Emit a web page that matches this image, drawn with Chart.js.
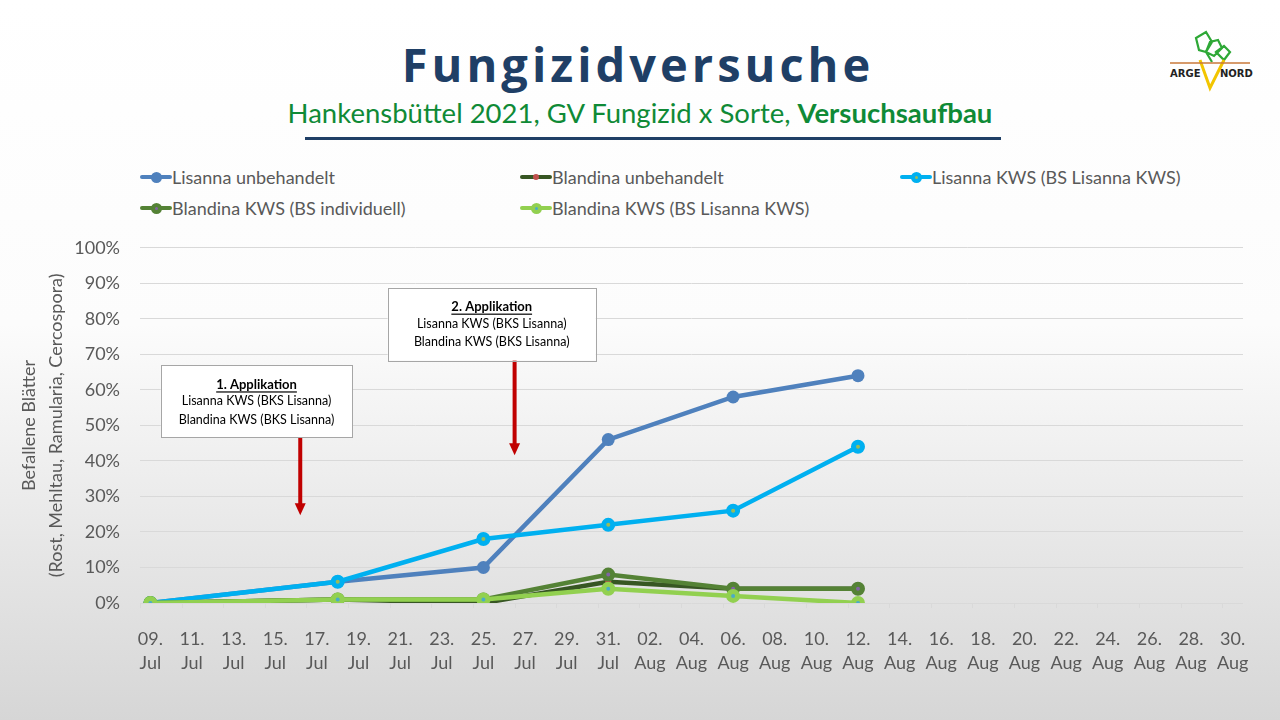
<!DOCTYPE html>
<html>
<head>
<meta charset="utf-8">
<script src="https://cdn.jsdelivr.net/npm/chart.js@4.4.1/dist/chart.umd.min.js"></script>
<style>
  body {
    margin: 0;
    width: 1280px;
    height: 720px;
    overflow: hidden;
    position: relative;
    background: linear-gradient(to bottom, #ffffff 0%, #fcfcfc 45%, #d6d6d6 100%);
    font-family: Lato, "Noto Sans", sans-serif;
  }
  #title {
    position: absolute; left: 0; width: 1276px; top: 32px;
    text-align: center; font-family: "Open Sans", sans-serif; font-weight: 700;
    font-size: 47px; letter-spacing: 4px; color: #1f3f66; line-height: 64px;
  }
  #subtitle {
    position: absolute; left: 0; width: 1280px; top: 95px;
    text-align: center; font-size: 27.5px; color: #0f8a36; line-height: 36px;
  }
  #subtitle b { font-weight: 700; }
  #rule {
    position: absolute; left: 305px; top: 137px; width: 696px; height: 3px; background: #1f3f66;
  }
  #logo { position: absolute; left: 1166px; top: 30px; }
  #legend {
    position: absolute; left: 140px; top: 163px;
    display: grid; grid-template-columns: 380px 380px 380px; row-gap: 3px;
    font-size: 18px; color: #595959;
  }
  .item { display: flex; align-items: center; height: 28px; white-space: nowrap; }
  .sw { position: relative; width: 32px; height: 28px; margin-right: 0px; }
  .sw .ln { position: absolute; left: 0; width: 32px; top: 12px; height: 4px; border-radius: 2px; }
  .sw .mk { position: absolute; border-radius: 50%; }
  #wrap { position: absolute; left: 0; top: 217px; width: 1280px; height: 503px; }
</style>
</head>
<body>
<div id="title">Fungizidversuche</div>
<div id="subtitle">Hankensbüttel 2021, GV Fungizid x Sorte, <b>Versuchsaufbau</b></div>
<div id="rule"></div>
<svg id="logo" width="88" height="62" viewBox="0 0 88 62">
  <path d="M30 8 L40 2 L46 12 L40 22 L33 20 Z M40 22 L44 12 L52 10 L56 18 L48 26 Z M50 22 L58 16 L64 22 L58 30 Z M40 22 L46 32" fill="none" stroke="#2ea836" stroke-width="2.2"/>
  <path d="M34 30 L44 58 L58 30" fill="none" stroke="#f2c500" stroke-width="3"/>
  <line x1="4" y1="33" x2="84" y2="33" stroke="#c8793a" stroke-width="1.5"/>
  <text x="4" y="47" font-family="DejaVu Sans" font-weight="bold" font-size="10" fill="#222">ARGE</text>
  <text x="54" y="47" font-family="DejaVu Sans" font-weight="bold" font-size="10" fill="#222">NORD</text>
</svg>
<div id="legend"></div>
<div id="wrap"><canvas id="chart"></canvas></div>

<script>
// Data (% befallene Blätter)
const sampleDates = ["2021-07-09", "2021-07-18", "2021-07-25", "2021-07-31", "2021-08-06", "2021-08-12"];
const lisannaUnbehandelt = [0, 6, 10, 46, 58, 64];
const blandinaUnbehandelt = [0, 1, 0, 6, 4, 4];
const lisannaKws = [0, 6, 18, 22, 26, 44];
const blandinaKwsIndividuell = [0, 1, 1, 8, 4, 4];
const blandinaKwsLisanna = [0, 1, 1, 4, 2, 0];
const seriesNames = [
  "Lisanna unbehandelt",
  "Blandina unbehandelt",
  "Lisanna KWS (BS Lisanna KWS)",
  "Blandina KWS (BS individuell)",
  "Blandina KWS (BS Lisanna KWS)",
];
const axisStart = "2021-07-09";
const axisEnd = "2021-08-30";
const monthNames = ["Jan", "Feb", "Mär", "Apr", "Mai", "Jun", "Jul", "Aug", "Sep", "Okt", "Nov", "Dez"];
const yTicks = [0, 10, 20, 30, 40, 50, 60, 70, 80, 90, 100];

// Annotation boxes (applications)
const applications = [
  { title: "1. Applikation", lines: ["Lisanna KWS (BKS Lisanna)", "Blandina KWS (BKS Lisanna)"],
    box: [0.5, 9.7, 66.9, 46.6], arrow: [7.2, 46.6, 24.7] },
  { title: "2. Applikation", lines: ["Lisanna KWS (BKS Lisanna)", "Blandina KWS (BKS Lisanna)"],
    box: [11.4, 21.4, 88.8, 68.3], arrow: [17.5, 68.3, 41.6] },
];

const DAY = 86400000;
const t0 = Date.parse(axisStart);
const dayOf = (d) => Math.round((Date.parse(d) - t0) / DAY);
const lastDay = dayOf(axisEnd);

const styles = [
  { line: "#4f81bd", fill: "#4f81bd", border: "#4f81bd", r: 6.5, bw: 0 },
  { line: "#375623", fill: "#c0504d", border: "#c0504d", r: 3, bw: 0 },
  { line: "#00b0f0", fill: "#9bbb59", border: "#00b0f0", r: 4.5, bw: 5 },
  { line: "#548235", fill: "#8064a2", border: "#548235", r: 4.5, bw: 5 },
  { line: "#92d050", fill: "#4bacc6", border: "#92d050", r: 4.5, bw: 5 },
];
const seriesValues = [lisannaUnbehandelt, blandinaUnbehandelt, lisannaKws, blandinaKwsIndividuell, blandinaKwsLisanna];

const datasets = seriesValues.map((vals, i) => ({
  label: seriesNames[i],
  data: vals.map((v, j) => ({ x: dayOf(sampleDates[j]), y: v })),
  borderColor: styles[i].line,
  backgroundColor: styles[i].fill,
  borderWidth: 4.5,
  pointRadius: styles[i].r,
  pointBorderWidth: styles[i].bw,
  pointBorderColor: styles[i].border,
  pointBackgroundColor: styles[i].fill,
  tension: 0,
  order: seriesValues.length - i,
}));

// HTML legend in three columns
const legendEl = document.getElementById("legend");
seriesNames.forEach((name, i) => {
  const s = styles[i];
  const size = i === 1 ? 6 : 11;
  const item = document.createElement("div");
  item.className = "item";
  item.innerHTML =
    '<div class="sw"><div class="ln" style="background:' + s.line + '"></div>' +
    '<div class="mk" style="left:' + (16 - size / 2) + 'px;top:' + (14 - size / 2) + 'px;width:' + size + 'px;height:' + size + 'px;background:' +
    (i <= 1 ? s.fill : s.border) + '"></div>' +
    (i >= 2 ? '<div class="mk" style="left:14.5px;top:12.5px;width:3px;height:3px;background:' + s.fill + '"></div>' : "") +
    "</div><span>" + name + "</span>";
  legendEl.appendChild(item);
});

// draws the small x tick marks and the application callouts
const extrasPlugin = {
  id: "extras",
  afterDraw(chart) {
    const { ctx, scales: { x, y } } = chart;
    ctx.save();
    ctx.strokeStyle = "#d9d9d9";
    ctx.lineWidth = 1;
    for (let d = -0.5; d <= lastDay + 0.5; d += 2) {
      const px = Math.round(x.getPixelForValue(d)) + 0.5;
      ctx.beginPath();
      ctx.moveTo(px, y.bottom);
      ctx.lineTo(px, y.bottom + 5);
      ctx.stroke();
    }
    applications.forEach((a) => {
      const [x1, x2, y1, y2] = a.box;
      const l = x.getPixelForValue(x1), r = x.getPixelForValue(x2);
      const t = y.getPixelForValue(y1), b = y.getPixelForValue(y2);
      // arrow
      const ax = x.getPixelForValue(a.arrow[0]);
      const ay1 = y.getPixelForValue(a.arrow[1]), ay2 = y.getPixelForValue(a.arrow[2]);
      ctx.strokeStyle = "#c00000";
      ctx.fillStyle = "#c00000";
      ctx.lineWidth = 4;
      ctx.beginPath();
      ctx.moveTo(ax, ay1);
      ctx.lineTo(ax, ay2 - 10);
      ctx.stroke();
      ctx.beginPath();
      ctx.moveTo(ax - 5.5, ay2 - 12);
      ctx.lineTo(ax + 5.5, ay2 - 12);
      ctx.lineTo(ax, ay2);
      ctx.closePath();
      ctx.fill();
      // box
      ctx.fillStyle = "#ffffff";
      ctx.fillRect(l, t, r - l, b - t);
      ctx.strokeStyle = "#a6a6a6";
      ctx.lineWidth = 1;
      ctx.strokeRect(Math.round(l) + 0.5, Math.round(t) + 0.5, Math.round(r - l), Math.round(b - t));
      const cx = (l + r) / 2;
      ctx.fillStyle = "#000000";
      ctx.textAlign = "center";
      ctx.textBaseline = "middle";
      ctx.font = "bold 13px Lato, sans-serif";
      ctx.fillText(a.title, cx, t + 19);
      const tw = ctx.measureText(a.title).width;
      ctx.fillRect(cx - tw / 2, t + 26, tw, 1.2);
      ctx.font = "12.5px Lato, sans-serif";
      a.lines.forEach((ln, k) => ctx.fillText(ln, cx, t + 36 + k * 18.5));
    });
    ctx.restore();
  },
};

new Chart(document.getElementById("chart"), {
  type: "line",
  data: { datasets },
  plugins: [extrasPlugin],
  options: {
    responsive: true,
    maintainAspectRatio: false,
    animation: false,
    layout: { padding: { top: 0, right: 37, left: 0, bottom: 0 } },
    plugins: { legend: { display: false }, tooltip: { enabled: false } },
    scales: {
      x: {
        type: "linear",
        min: -0.5,
        max: lastDay + 0.5,
        afterBuildTicks: (scale) => {
          const ticks = [];
          for (let d = 0; d <= lastDay; d += 2) ticks.push({ value: d });
          scale.ticks = ticks;
        },
        afterFit: (scale) => { scale.height = 117; },
        grid: { display: false },
        border: { display: false },
        ticks: {
          autoSkip: false,
          maxRotation: 0,
          padding: 16,
          color: "#595959",
          font: { family: "Lato", size: 18, lineHeight: 1.33 },
          callback: (v) => {
            const d = new Date(t0 + v * DAY);
            return [String(d.getUTCDate()).padStart(2, "0") + ".", monthNames[d.getUTCMonth()]];
          },
        },
      },
      y: {
        min: 0,
        max: 100,
        afterBuildTicks: (scale) => { scale.ticks = yTicks.map((v) => ({ value: v })); },
        afterFit: (scale) => { scale.width = 140; },
        grid: { color: "#d9d9d9", lineWidth: 1, drawTicks: false },
        border: { display: false },
        ticks: {
          padding: 20,
          color: "#595959",
          font: { family: "Lato", size: 18 },
          callback: (v) => v + "%",
        },
        title: {
          display: true,
          text: ["Befallene Blätter", "(Rost, Mehltau, Ramularia, Cercospora)"],
          color: "#595959",
          font: { family: "Lato", size: 18, lineHeight: 1.5 },
          padding: { top: 16, bottom: 0 },
        },
      },
    },
  },
});
</script>
</body>
</html>
